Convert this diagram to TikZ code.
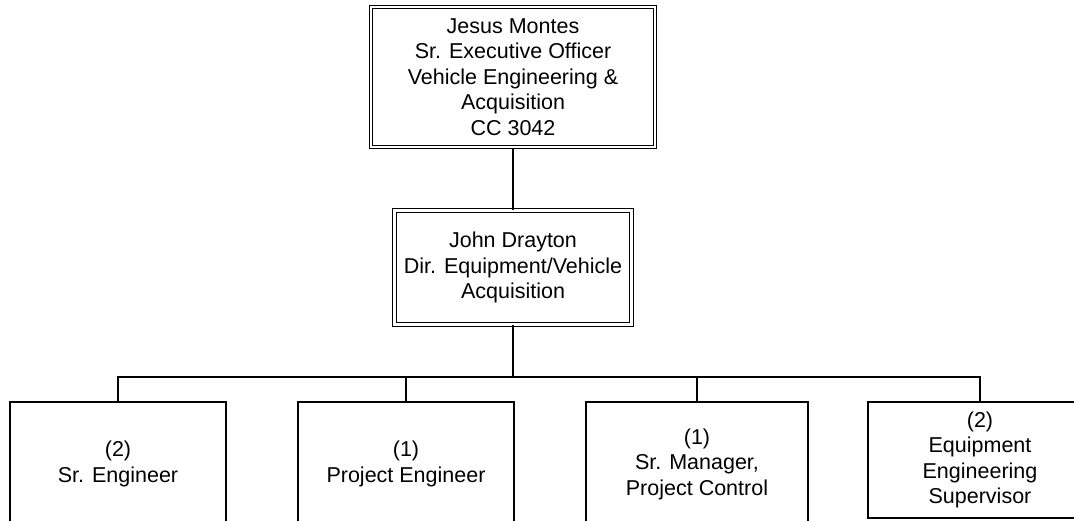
\documentclass[tikz,border=0pt]{standalone}
\usepackage{fontspec}
\setmainfont{Liberation Sans}
\usepackage{tikz}
\usetikzlibrary{positioning}

\begin{document}
\begin{tikzpicture}[
  x=1pt,
  y=1pt,
  every node/.style={font=\fontsize{21.5}{25.5}\selectfont, align=center, inner sep=0pt},
  headbox/.style={draw=black, double=white, line width=1.2pt, double distance=2.4pt},
  staffbox/.style={draw=black, line width=1.3pt, minimum width=216pt, minimum height=124pt},
  link/.style={line width=1.3pt}
]
\clip (0,0) rectangle (1074,520);
\node[headbox, minimum width=284pt, minimum height=140pt] (jm) at (513,443) {Jesus Montes\\Sr. Executive Officer\\Vehicle Engineering \&\\Acquisition\\CC 3042};
\node[headbox, minimum width=237pt, minimum height=114pt] (jd) at (513,252.5) {John Drayton\\Dir. Equipment/Vehicle\\Acquisition};
\coordinate (bus) at (513,143);

\node[staffbox] (se) at (118,56) {(2)\\Sr. Engineer};
\node[staffbox] (pe) at (406,56) {(1)\\Project Engineer};
\node[staffbox, minimum width=222pt] (pc) at (697,56) {(1)\\Sr. Manager,\\Project Control};
\node[staffbox, minimum width=224pt, minimum height=116pt] (es) at (980,60) {(2)\\Equipment\\Engineering\\Supervisor};

\draw[link] (jm) -- (jd);
\draw[link] (jd) -- (bus);
\draw[link] (bus) -| (se.north);
\draw[link] (bus) -| (pe.north);
\draw[link] (bus) -| (pc.north);
\draw[link] (bus) -| (es.north);
\end{tikzpicture}
\end{document}
